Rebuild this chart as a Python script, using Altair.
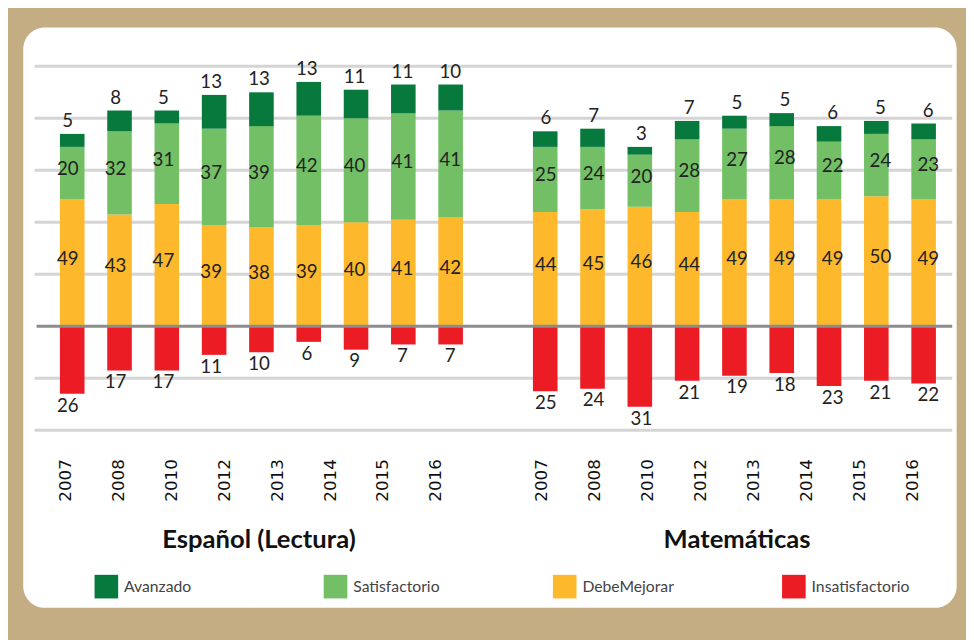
import altair as alt
import pandas as pd

# ---------------- data ----------------
levels = ["Avanzado", "Satisfactorio", "DebeMejorar", "Insatisfactorio"]
level_colors = ["#08793D", "#72BF66", "#FDB92B", "#EC1C24"]
groups = ["Español (Lectura)", "Matemáticas"]
years = ["2007", "2008", "2010", "2012", "2013", "2014", "2015", "2016"]

esp_avanzado = [5, 8, 5, 13, 13, 13, 11, 11, 10]
esp_satisfactorio = [20, 32, 31, 37, 39, 42, 40, 41, 41]
esp_debemejorar = [49, 43, 47, 39, 38, 39, 40, 41, 42]
esp_insatisfactorio = [26, 17, 17, 11, 10, 6, 9, 7, 7]

mat_avanzado = [6, 7, 3, 7, 5, 5, 6, 5, 6]
mat_satisfactorio = [25, 24, 20, 28, 27, 28, 22, 24, 23]
mat_debemejorar = [44, 45, 46, 44, 49, 49, 49, 50, 49]
mat_insatisfactorio = [25, 24, 31, 21, 19, 18, 23, 21, 22]

gridlines = [100, 80, 60, 40, 20, -20, -40]

# ---------------- tables ----------------
series = {
    groups[0]: (esp_avanzado, esp_satisfactorio, esp_debemejorar, esp_insatisfactorio),
    groups[1]: (mat_avanzado, mat_satisfactorio, mat_debemejorar, mat_insatisfactorio),
}
rows = []
title_rows = []
year_rows = []
for gi, g in enumerate(groups):
    av, sat, deb, ins = series[g]
    n = len(av)
    start = gi * (n + 1)
    for i in range(n):
        for lvl, v, o in (("DebeMejorar", deb[i], 0), ("Satisfactorio", sat[i], 1),
                          ("Avanzado", av[i], 2), ("Insatisfactorio", -ins[i], 3)):
            rows.append(dict(grp=g, idx=start + i, level=lvl, value=v, label=abs(v), ord=o))
    title_rows.append(dict(grp=g, c=start + (n - 1) / 2))
    for k, y in enumerate(years):
        year_rows.append(dict(year=y, k=gi * (len(years) + 1) + k))

df = pd.DataFrame(rows)
titles_df = pd.DataFrame(title_rows)
years_df = pd.DataFrame(year_rows)
grid_df = pd.DataFrame({"v": gridlines})
zero_df = pd.DataFrame({"v": [0]})

# ---------------- scales ----------------
xs = alt.Scale(domain=[-0.942, 18.584], nice=False, zero=False)
ys = alt.Scale(domain=[-108.11, 115.135], nice=False, zero=False)
yrs = alt.Scale(domain=[-0.818, 16.82], nice=False, zero=False)

FONT = "Lato"

base = alt.Chart(df).transform_stack(
    stack="value", groupby=["grp", "idx"], as_=["y0", "y1"],
    sort=[alt.SortField("ord", order="ascending")]
).transform_calculate(
    lo="min(datum.y0, datum.y1)",
    hi="max(datum.y0, datum.y1)",
    mid="(datum.y0 + datum.y1) / 2",
)

grid = alt.Chart(grid_df).mark_rule(color="#D4D4D4", strokeWidth=3).encode(
    y=alt.Y("v:Q", scale=ys, axis=None),
    x=alt.value(12), x2=alt.value(945),
)

bars = base.mark_bar(size=25).encode(
    x=alt.X("idx:Q", scale=xs, axis=None),
    y=alt.Y("y0:Q", scale=ys, axis=None),
    y2="y1:Q",
    color=alt.Color(
        "level:N",
        scale=alt.Scale(domain=levels, range=level_colors),
        legend=alt.Legend(
            title=None, orient="none", legendX=73, legendY=557,
            direction="horizontal", columns=4, gridAlign="all",
            columnPadding=103, symbolType="square", symbolSize=576,
            symbolStrokeWidth=0, symbolOpacity=1, labelFont=FONT,
            labelFontSize=16, labelColor="#444444", labelOffset=6,
            labelLimit=300, padding=0,
        ),
    ),
)

zero = alt.Chart(zero_df).mark_rule(color="#8C8C8C", strokeWidth=3).encode(
    y=alt.Y("v:Q", scale=ys, axis=None),
    x=alt.value(14), x2=alt.value(945),
)

txt = dict(font=FONT, fontSize=19, color="#222222")

top_lbl = base.transform_filter("datum.level == 'Avanzado'").mark_text(
    baseline="alphabetic", dy=-7, **txt
).encode(x=alt.X("idx:Q", scale=xs, axis=None), y=alt.Y("hi:Q", scale=ys, axis=None), text="label:Q")

mid_lbl = base.transform_filter(
    "datum.level == 'Satisfactorio' || datum.level == 'DebeMejorar'"
).mark_text(baseline="middle", dy=-4, **txt).encode(
    x=alt.X("idx:Q", scale=xs, axis=None), y=alt.Y("mid:Q", scale=ys, axis=None), text="label:Q")

bot_lbl = base.transform_filter("datum.level == 'Insatisfactorio'").mark_text(
    baseline="top", dy=3, **txt
).encode(x=alt.X("idx:Q", scale=xs, axis=None), y=alt.Y("lo:Q", scale=ys, axis=None), text="label:Q")

year_lbl = alt.Chart(years_df).mark_text(
    angle=270, font="DejaVu Sans", fontSize=17, baseline="middle", align="center", color="#111111"
).encode(
    x=alt.X("k:Q", scale=yrs, axis=None),
    y=alt.value(461),
    text="year:N",
)

group_title = alt.Chart(titles_df).mark_text(
    font=FONT, fontWeight="bold", fontSize=26, color="#111111", baseline="middle", align="center"
).encode(
    x=alt.X("c:Q", scale=xs, axis=None),
    y=alt.value(522),
    text="grp:N",
)

chart = alt.layer(
    grid, bars, zero, top_lbl, mid_lbl, bot_lbl, year_lbl, group_title
).resolve_scale(x="independent").properties(
    width=949, height=590,
    background="#C4AD83",
    padding={"left": 15, "top": 14, "right": 10, "bottom": 30},
    autosize=alt.AutoSizeParams(type="none"),
).configure_view(fill="white", stroke="transparent", cornerRadius=22)

chart.save("out.html", embed_options={"renderer": "svg", "actions": False})
